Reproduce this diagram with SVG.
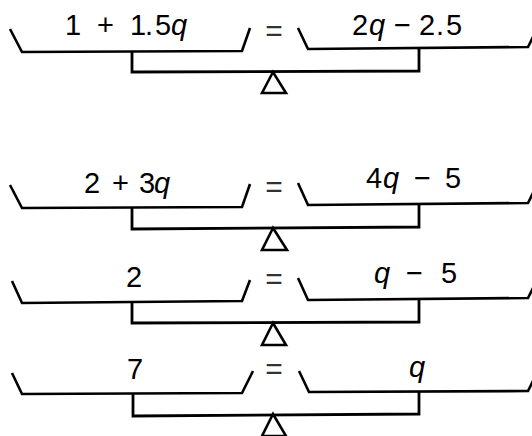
<svg xmlns="http://www.w3.org/2000/svg" width="532" height="436" viewBox="0 0 532 436">
<style>
.ln{fill:none;stroke:#000;stroke-width:2.6;stroke-linejoin:miter;stroke-linecap:butt}
.bm{fill:none;stroke:#000;stroke-width:2.8}
.tr{fill:#fff;stroke:#000;stroke-width:2.6;stroke-linejoin:miter}
.t{font-family:"Liberation Sans",Arial,sans-serif;font-size:29px;fill:#000}
.q{font-style:italic}
.eq{font-family:"Liberation Sans",Arial,sans-serif;font-size:30px;fill:#333;text-anchor:middle}
</style>
<rect width="532" height="436" fill="#fff"/>

<g id="scale1">
  <g id="s1-left-pan"><path class="ln" d="M10,29 L22,52 L242,51 L250,28"/>
    <text class="t" y="35"><tspan x="65">1</tspan><tspan x="97">+</tspan><tspan x="130 145 155">1.5</tspan><tspan class="q" x="171">q</tspan></text></g>
  <g id="s1-right-pan"><path class="ln" d="M298,28 L308,49 L528,47 L538,27"/>
    <text class="t" y="35"><tspan x="352">2</tspan><tspan class="q" x="369">q</tspan><tspan x="394">−</tspan><tspan x="419 436 446">2.5</tspan></text></g>
  <text id="s1-eq" class="eq" x="274" y="41">=</text>
  <g id="s1-beam"><path class="bm" d="M132,51 L132,72 L419,71 L419,48"/></g>
  <g id="s1-fulcrum"><path class="tr" d="M273,72 L262,93 L286,93 Z"/></g>
</g>

<g id="scale2">
  <g id="s2-left-pan"><path class="ln" d="M10,185 L22,208 L242,207 L250,184"/>
    <text class="t" y="193"><tspan x="84">2</tspan><tspan x="112">+</tspan><tspan x="139">3</tspan><tspan class="q" x="154">q</tspan></text></g>
  <g id="s2-right-pan"><path class="ln" d="M298,183 L308,205 L528,203 L538,183"/>
    <text class="t" y="188"><tspan x="366">4</tspan><tspan class="q" x="383">q</tspan><tspan x="414">−</tspan><tspan x="445">5</tspan></text></g>
  <text id="s2-eq" class="eq" x="274" y="197">=</text>
  <g id="s2-beam"><path class="bm" d="M132,208 L132,229 L419,227 L419,205"/></g>
  <g id="s2-fulcrum"><path class="tr" d="M273,228 L262,250 L287,250 Z"/></g>
</g>

<g id="scale3">
  <g id="s3-left-pan"><path class="ln" d="M12,281 L22,303 L242,301 L250,280"/>
    <text class="t" y="287"><tspan x="126">2</tspan></text></g>
  <g id="s3-right-pan"><path class="ln" d="M298,278 L308,300 L528,298 L538,278"/>
    <text class="t" y="283"><tspan class="q" x="374">q</tspan><tspan x="406">−</tspan><tspan x="441">5</tspan></text></g>
  <text id="s3-eq" class="eq" x="274" y="289">=</text>
  <g id="s3-beam"><path class="bm" d="M132,302 L132,323 L419,322 L419,300"/></g>
  <g id="s3-fulcrum"><path class="tr" d="M273,323 L262,345 L286,345 Z"/></g>
</g>

<g id="scale4">
  <g id="s4-left-pan"><path class="ln" d="M12,373 L22,394 L242,393 L253,371"/>
    <text class="t" y="379"><tspan x="127">7</tspan></text></g>
  <g id="s4-right-pan"><path class="ln" d="M299,371 L309,392 L528,391 L538,371"/>
    <text class="t" y="377"><tspan class="q" x="409">q</tspan></text></g>
  <text id="s4-eq" class="eq" x="274" y="379">=</text>
  <g id="s4-beam"><path class="bm" d="M133,394 L133,416 L419,414 L419,392"/></g>
  <g id="s4-fulcrum"><path class="tr" d="M273,414 L262,436 L286,436 Z"/></g>
</g>
</svg>
